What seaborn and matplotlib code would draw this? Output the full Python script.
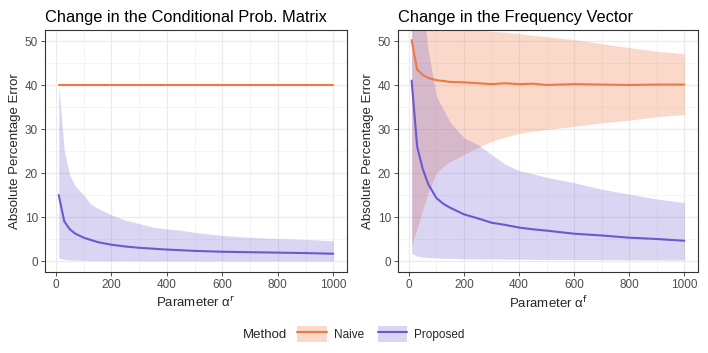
import numpy as np
import pandas as pd
import seaborn as sns
import matplotlib.pyplot as plt
from matplotlib.patches import Patch
from matplotlib.lines import Line2D
from matplotlib.ticker import MultipleLocator

# parameter grid (alpha values)
alpha_vals = [10, 30, 50, 70, 100, 125, 150, 200, 250, 300, 350, 400, 450, 500, 600, 700, 800, 900, 1000]

# left panel: change in the conditional prob. matrix
cpm_naive_med = [40.0] * 19
cpm_naive_lo = [39.8] * 19
cpm_naive_hi = [40.2] * 19
cpm_prop_med = [15, 9, 7.2, 6.2, 5.3, 4.8, 4.3, 3.7, 3.3, 3.0, 2.8, 2.6, 2.45, 2.3, 2.1, 2.0, 1.9, 1.8, 1.65]
cpm_prop_lo = [0.7, 0.35, 0.25, 0.2, 0.15, 0.12, 0.1, 0.1, 0.1, 0.08, 0.08, 0.07, 0.07, 0.06, 0.06, 0.05, 0.05, 0.05, 0.05]
cpm_prop_hi = [40, 25, 19.5, 17, 15, 13, 12, 10.5, 9.3, 8.5, 7.7, 7.3, 7.0, 6.5, 5.8, 5.4, 5.1, 4.9, 4.6]

# right panel: change in the frequency vector
fv_naive_med = [50.2, 43.5, 42.3, 41.6, 41.1, 40.9, 40.7, 40.6, 40.4, 40.2, 40.4, 40.2, 40.3, 40.0, 40.2, 40.1, 40.0, 40.1, 40.1]
fv_naive_lo = [3.5, 7.5, 11.5, 15.5, 20, 21.5, 22.6, 24.2, 25.8, 27.2, 28.2, 29.0, 29.5, 29.9, 30.6, 31.4, 32.0, 32.8, 33.3]
fv_naive_hi = [80, 65, 60, 58, 56, 55, 54, 53, 52.5, 52.2, 52.0, 51.7, 51.3, 51.0, 50.3, 49.4, 48.5, 47.7, 47.1]
fv_prop_med = [41, 26, 21, 17.5, 14.3, 13, 12.1, 10.6, 9.7, 8.7, 8.2, 7.6, 7.2, 6.9, 6.2, 5.8, 5.3, 5.0, 4.6]
fv_prop_lo = [1.7, 1.1, 0.9, 0.8, 0.7, 0.65, 0.6, 0.5, 0.48, 0.45, 0.42, 0.4, 0.38, 0.35, 0.32, 0.3, 0.28, 0.26, 0.25]
fv_prop_hi = [80, 70, 58, 48, 37.4, 34.5, 31.5, 28, 26.5, 24.2, 22, 20.5, 19.8, 19.0, 17.8, 16.3, 15.2, 14.1, 13.3]

methods = ['Naive', 'Proposed']
colors = {'Naive': '#EE7942', 'Proposed': '#6A5ACD'}
fill_alpha = {'Naive': 0.28, 'Proposed': 0.25}

sns.set_theme(style='white')
plt.rcParams['font.family'] = ['Liberation Sans', 'DejaVu Sans']

fig = plt.figure(figsize=(7.08, 3.53), dpi=100)
ax1 = fig.add_axes([45/708, 81/353, 302/708, 242/353])
ax2 = fig.add_axes([398/708, 81/353, 300/708, 242/353])

panels = [
    (ax1, 'Change in the Conditional Prob. Matrix', r'Parameter α$^{\mathrm{r}}$',
     {'Naive': (cpm_naive_med, cpm_naive_lo, cpm_naive_hi),
      'Proposed': (cpm_prop_med, cpm_prop_lo, cpm_prop_hi)}),
    (ax2, 'Change in the Frequency Vector', r'Parameter α$^{\mathrm{f}}$',
     {'Naive': (fv_naive_med, fv_naive_lo, fv_naive_hi),
      'Proposed': (fv_prop_med, fv_prop_lo, fv_prop_hi)}),
]

for ax, title, xlab, series in panels:
    rows = []
    for m in methods:
        med, lo, hi = series[m]
        ax.fill_between(alpha_vals, lo, hi, color=colors[m], alpha=fill_alpha[m], lw=0, zorder=2)
        rows.append(pd.DataFrame({'alpha': alpha_vals, 'ape': med, 'Method': m}))
    df = pd.concat(rows)
    sns.lineplot(data=df, x='alpha', y='ape', hue='Method', palette=colors,
                 lw=1.5, ax=ax, legend=False, zorder=3)

    ax.set_xlim(-39.5, 1049.5)
    ax.set_ylim(-2.5, 52.5)
    ax.xaxis.set_major_locator(MultipleLocator(200))
    ax.xaxis.set_minor_locator(MultipleLocator(100))
    ax.yaxis.set_major_locator(MultipleLocator(10))
    ax.yaxis.set_minor_locator(MultipleLocator(5))
    ax.grid(which='major', color='#EBEBEB', lw=0.9, zorder=0)
    ax.grid(which='minor', color='#F3F3F3', lw=0.6, zorder=0)
    ax.set_axisbelow(True)
    for s in ax.spines.values():
        s.set_color('#333333')
        s.set_linewidth(0.8)
    ax.tick_params(which='major', direction='out', length=3, width=0.6, color='#333333',
                   labelsize=8.5, labelcolor='#4D4D4D', pad=2, bottom=True, left=True)
    ax.tick_params(which='minor', length=0)
    ax.set_title(title, fontsize=11.8, loc='left', pad=6, color='black')
    ax.set_xlabel(xlab, fontsize=9.5, labelpad=3)
    ax.set_ylabel('Absolute Percentage Error', fontsize=9.5, labelpad=3)

fig.text(243/708, 18/353, 'Method', fontsize=9.5, va='center', ha='left')
handles = [(Patch(facecolor=colors[m], alpha=fill_alpha[m], lw=0), Line2D([], [], color=colors[m], lw=1.5))
           for m in methods]
fig.legend(handles, methods, loc='center left', bbox_to_anchor=(297/708, 19/353),
           ncol=2, frameon=False, fontsize=8.5, handlelength=2.5, handleheight=1.8,
           handletextpad=0.6, columnspacing=1.2, borderpad=0, borderaxespad=0)

fig.savefig('out.png', dpi=100)
